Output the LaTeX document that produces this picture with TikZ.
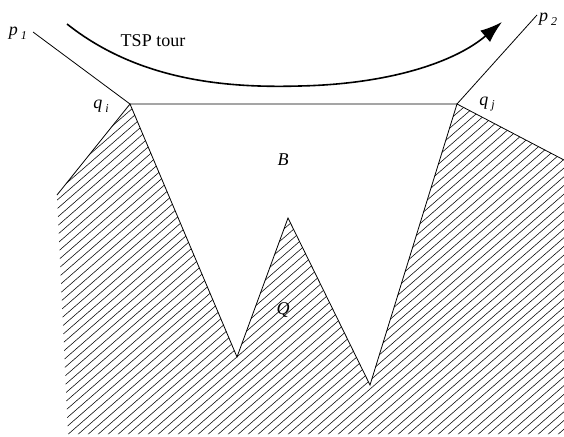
\documentclass[tikz,border=0pt]{standalone}
\usepackage{fontspec}
\setmainfont{Liberation Serif}
\usetikzlibrary{arrows.meta}
\tikzset{lbl/.style={inner sep=0pt,font=\fontsize{18}{20}\selectfont\itshape}}
\newcommand{\sub}[2]{#1\raisebox{-0.45ex}{\,\fontsize{12}{14}\selectfont #2}}
\begin{document}
\begin{tikzpicture}[x=1pt,y=-1pt]
\useasboundingbox (0,0) rectangle (564,436);
\coordinate (qi) at (130,104); \coordinate (qj) at (457,104);
\coordinate (v1) at (237,357); \coordinate (pk) at (288,218);
\coordinate (v2) at (370,385);
\coordinate (lf) at (57,195); \coordinate (rt) at (564,160);
\coordinate (p1e) at (33,32); \coordinate (p2e) at (537,15);
\coordinate (ts) at (67,24); \coordinate (te) at (502,22);
% hatched polygon Q
\begin{scope}
\clip (lf) -- (qi) -- (v1) -- (pk) -- (v2) -- (qj) -- (rt) -- (564,434) -- (68,434) -- cycle;
\foreach \k in {-530,-520,...,580}{\draw[line width=0.55pt] (\k,450) -- (\k+517,0);}
\end{scope}
\draw[line width=0.8pt] (lf) -- (qi) -- (v1) -- (pk) -- (v2) -- (qj) -- (rt);
\draw[line width=0.8pt] (p1e) -- (qi) -- (qj) -- (p2e);
% the tour
\draw[line width=1.6pt,-{Latex[length=22pt,width=15pt]}] (ts) .. controls (140,82) and (230,88) .. (300,86) .. controls (390,84) and (455,62) .. (te);
\node[lbl] (tsp) at (153,41) {\upshape TSP tour};
\node[lbl] (p1) at (18,33) {\sub{p}{1}};
\node[lbl] (p2) at (548,19) {\sub{p}{2}};
\node[lbl] (qil) at (101,106) {\sub{q}{i}};
\node[lbl] (qjl) at (487,104) {\sub{q}{j}};
\node[lbl] (b) at (283,160) {B};
\node[lbl] (q) at (283,310) {Q};
\end{tikzpicture}
\end{document}
